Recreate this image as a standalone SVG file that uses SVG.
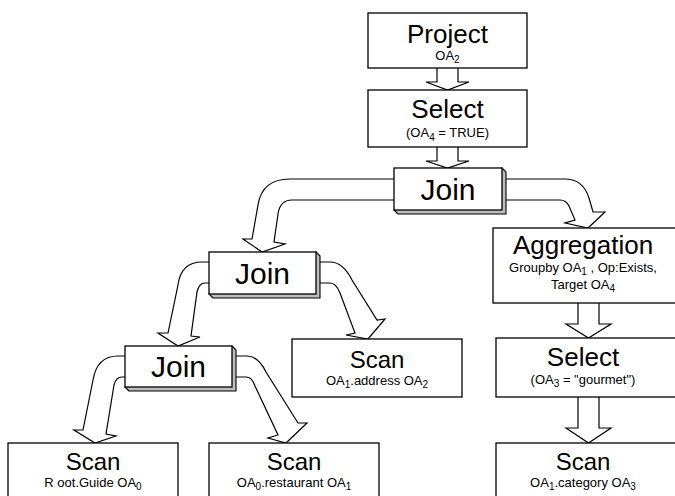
<svg xmlns="http://www.w3.org/2000/svg" width="675" height="496" viewBox="0 0 675 496">
<style>
.box{fill:#fff;stroke:#000;stroke-width:1.3}
.shadow{fill:#bdbdbd;stroke:#000;stroke-width:1.1;stroke-linejoin:round}
.arrow{fill:#fff;stroke:#000;stroke-width:1.2;stroke-linejoin:miter}
text{font-family:"Liberation Sans",Arial,sans-serif;fill:#000;text-anchor:middle}
.big{font-size:26px}
.join{font-size:30px}
.scan{font-size:24px}
.small{font-size:13px}
.sub{font-size:10px}
</style>
<rect width="675" height="496" fill="#fff"/>
<g id="connectors">
<path class="arrow" d="M 437 60 L 437 82 L 426 82 L 447.5 90 L 469 82 L 458 82 L 458 60 Z"/>
<path class="arrow" d="M 437 140 L 437 161 L 426 161 L 447.5 168 L 469 161 L 458 161 L 458 140 Z"/>
<path class="arrow" d="M 500 179 L 565 179 Q 583 179 589 198 L 593 212 L 605 212 L 588 228 L 565 223 L 575 220 L 569 206 Q 566 200 560 200 L 500 200 Z"/>
<path class="arrow" d="M 400 179 L 290 179 Q 262 179 258 205 L 252 239 L 243 239 L 262 252 L 285 244 L 274 242 L 278 214 Q 280 200 292 200 L 400 200 Z"/>
<path class="arrow" d="M 312 262 L 330 262 Q 343 262 352 280 L 377 320 L 385 319 L 368 339 L 346 335 L 355 333 L 340 293 Q 336 283 330 283 L 312 283 Z"/>
<path class="arrow" d="M 215 262 L 202 262 Q 181 262 178 285 L 168 333 L 158 333 L 178 346 L 200 337 L 191 336 L 197 292 Q 199 283 205 283 L 215 283 Z"/>
<path class="arrow" d="M 131 356 L 118 356 Q 97 356 93 380 L 83 430 L 74 430 L 95 443 L 116 436 L 106 434 L 114 385 Q 116 377 122 377 L 131 377 Z"/>
<path class="arrow" d="M 228 356 L 247 356 Q 258 356 266 372 L 298 423 L 307 423 L 286 443 L 268 438 L 278 435 L 255 386 Q 252 377 246 377 L 228 377 Z"/>
<path class="arrow" d="M 578 296 L 578 324 L 566 324 L 588.5 338 L 611 324 L 599 324 L 599 296 Z"/>
<path class="arrow" d="M 578 390 L 578 428 L 566 428 L 588.5 443 L 611 428 L 599 428 L 599 390 Z"/>
</g>
<g id="project">
<rect class="box" x="368" y="13" width="159" height="55"/>
<text class="big" x="447.5" y="43">Project</text>
<text class="small" x="447.5" y="60">OA<tspan class="sub" dy="3">2</tspan></text>
</g>
<g id="select-top">
<rect class="box" x="368" y="90" width="159" height="57"/>
<text class="big" x="447.5" y="118">Select</text>
<text class="small" x="447.5" y="137">(OA<tspan class="sub" dy="4">4</tspan><tspan dy="-4"> = TRUE)</tspan></text>
</g>
<g id="join-top">
<polygon class="shadow" points="502,168 506,172 506,214 398,214 394,210"/>
<rect class="box" x="394" y="168" width="108" height="42"/>
<text class="join" x="448" y="200">Join</text>
</g>
<g id="join-mid">
<polygon class="shadow" points="316,252 320,256 320,298 213,298 209,294"/>
<rect class="box" x="209" y="252" width="107" height="42"/>
<text class="join" x="262.5" y="284">Join</text>
</g>
<g id="join-bottom">
<polygon class="shadow" points="232,346 236,350 236,391 129,391 125,387"/>
<rect class="box" x="125" y="346" width="107" height="41"/>
<text class="join" x="178.5" y="377">Join</text>
</g>
<g id="scan-address">
<rect class="box" x="292" y="339" width="170" height="58"/>
<text class="scan" x="377" y="368">Scan</text>
<text class="small" x="377" y="385">OA<tspan class="sub" dy="3">1</tspan><tspan dy="-3">.address OA</tspan><tspan class="sub" dy="3">2</tspan></text>
</g>
<g id="scan-root">
<rect class="box" x="8" y="443" width="170" height="60"/>
<text class="scan" x="93" y="470">Scan</text>
<text class="small" x="93" y="487">R oot.Guide OA<tspan class="sub" dy="3">0</tspan></text>
</g>
<g id="scan-restaurant">
<rect class="box" x="209" y="443" width="170" height="60"/>
<text class="scan" x="294" y="470">Scan</text>
<text class="small" x="294" y="487">OA<tspan class="sub" dy="3">0</tspan><tspan dy="-3">.restaurant OA</tspan><tspan class="sub" dy="3">1</tspan></text>
</g>
<g id="aggregation">
<rect class="box" x="493" y="228" width="184" height="75"/>
<text class="big" x="583" y="254">Aggregation</text>
<text class="small" x="583" y="272">Groupby OA<tspan class="sub" dy="3">1</tspan><tspan dy="-3"> , Op:Exists,</tspan></text>
<text class="small" x="583" y="289">Target OA<tspan class="sub" dy="3">4</tspan></text>
</g>
<g id="select-right">
<rect class="box" x="496" y="338" width="181" height="59"/>
<text class="big" x="583" y="366">Select</text>
<text class="small" x="583" y="384">(OA<tspan class="sub" dy="3">3</tspan><tspan dy="-3"> = "gourmet")</tspan></text>
</g>
<g id="scan-category">
<rect class="box" x="496" y="443" width="181" height="60"/>
<text class="scan" x="583" y="470">Scan</text>
<text class="small" x="583" y="487">OA<tspan class="sub" dy="3">1</tspan><tspan dy="-3">.category OA</tspan><tspan class="sub" dy="3">3</tspan></text>
</g>
</svg>
